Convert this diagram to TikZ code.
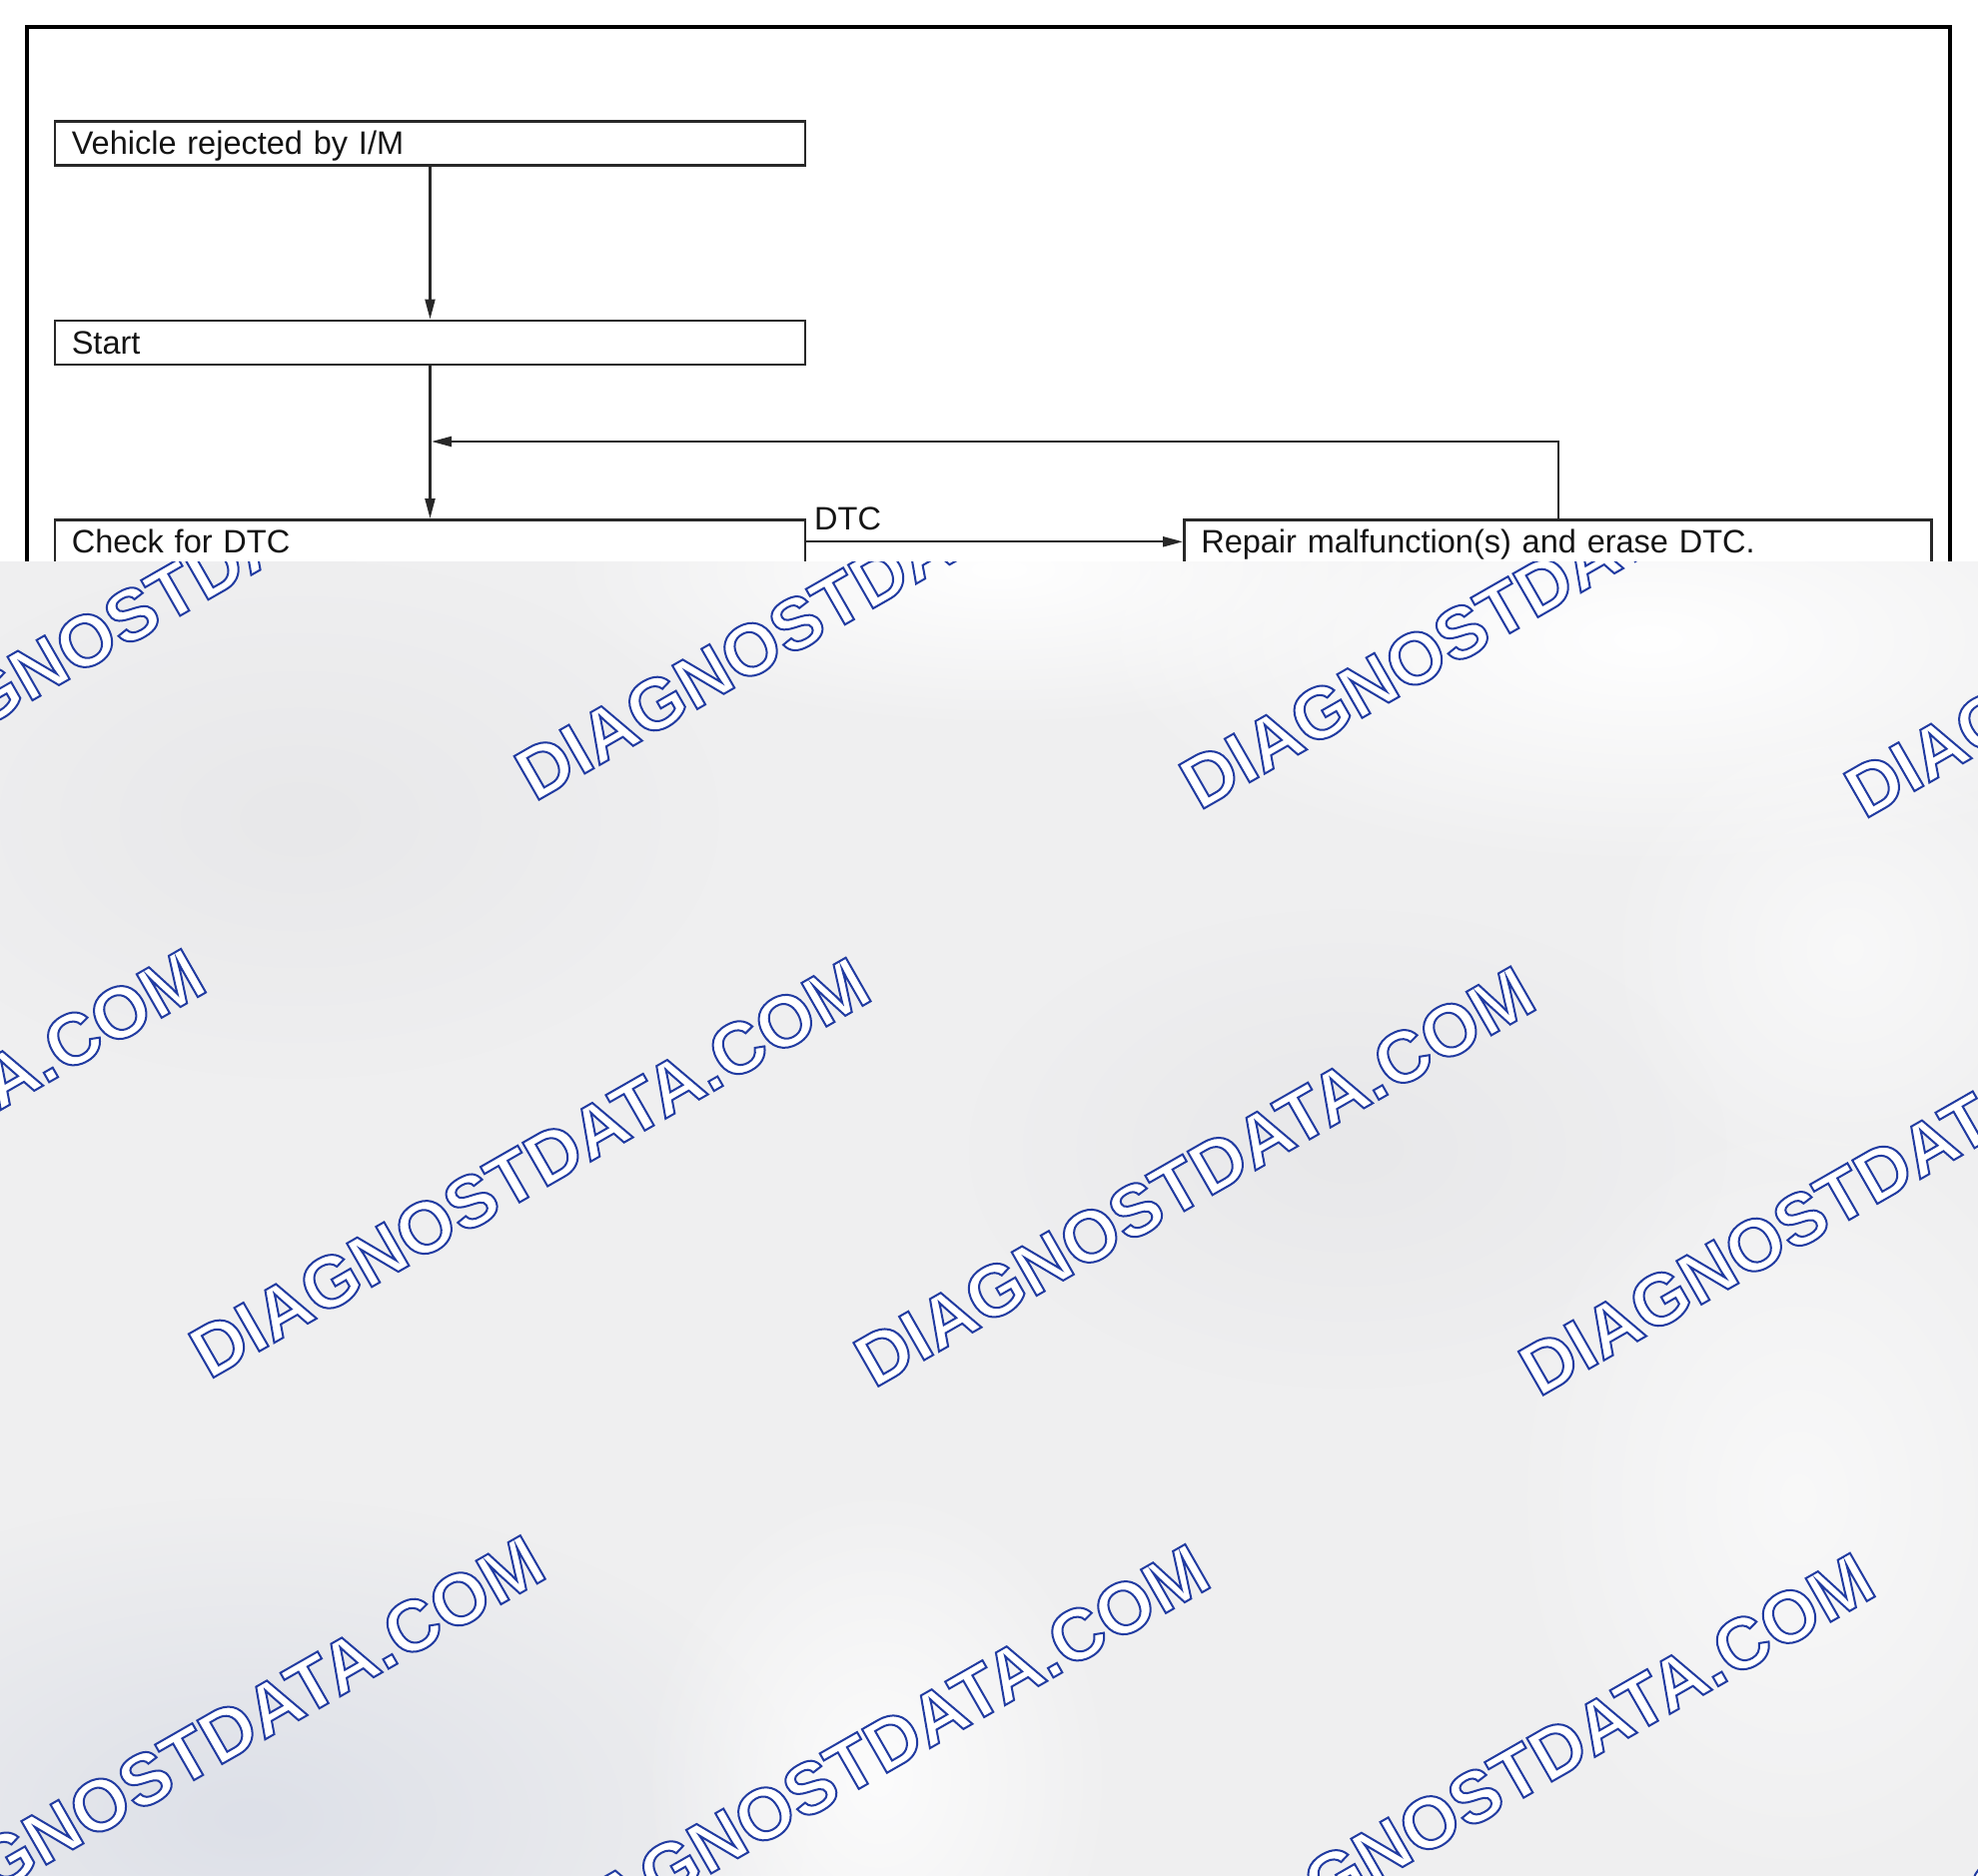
\documentclass[tikz,border=0pt]{standalone}
\usepackage{fontspec}
\setmainfont{Liberation Sans}
\usetikzlibrary{arrows.meta,fadings}
\definecolor{bgc}{RGB}{239,239,240}
\definecolor{ink}{RGB}{20,20,20}
\definecolor{lin}{RGB}{40,40,40}
\definecolor{darkbg}{RGB}{221,224,232}
\definecolor{midbg}{RGB}{232,232,234}
\tikzfading[name=fuzzy, inner color=transparent!0, outer color=transparent!100]
\newcommand\wmark{\special{pdf:literal direct 2 Tr 2 w 1 1 1 rg 0.13 0.23 0.63 RG}DIAGNOSTDATA.COM\special{pdf:literal direct 0 Tr}}
\begin{document}
\begin{tikzpicture}[x=1pt,y=-1pt,
  box/.style={draw=lin, line width=2.6pt, fill=white, inner xsep=17pt, inner ysep=0pt,
    minimum height=44pt, text height=23.3pt, text depth=0pt, align=left,
    font=\fontsize{32.5}{36}\selectfont, text=ink, anchor=north west},
  arr/.style={draw=lin, line width=2.2pt, -{Triangle[length=20pt,width=10pt]}},
  lbl/.style={font=\fontsize{32.5}{36}\selectfont, text=ink, inner sep=0pt, anchor=base west},
  wm/.style={anchor=base west, rotate=29.8, inner sep=0pt, font=\fontsize{73}{80}\selectfont\bfseries},
  fog/.style={path fading=fuzzy}]
\useasboundingbox (0,0) rectangle (1980,1878);
\fill[white] (0,0) rectangle (1980,1878);
% outer frame
\draw[line width=4.5pt, black] (27,27) rectangle (1952,800);
% boxes
\node[box, text width=717pt] (b1) at (53.5,120) {Vehicle rejected by I/M};
\node[box, text width=717pt] (b2) at (53.5,319.5) {Start};
\node[box, text width=717pt] (b3) at (53.5,519) {Check for DTC};
\node[box, text width=714pt] (b4) at (1184,519) {Repair malfunction(s) and erase DTC.};
\coordinate (vx) at (430.5,0);
\coordinate (fbx) at (1560,442);
\coordinate (j) at (432,442);
\draw[arr] (b1.south -| vx) -- (b2.north -| vx);
\draw[arr] (b2.south -| vx) -- (b3.north -| vx);
\draw[arr] (b3.east) -- (b4.west);
\draw[arr] (b4.north -| fbx) -- (fbx) -- (j);
\node[lbl] (dtc) at (815,530) {DTC};
% grey overlay
\begin{scope}
\clip (0,562) rectangle (1980,1878);
\fill[bgc] (0,562) rectangle (1980,1878);
\fill[midbg, fog] (300,820) ellipse (420 and 260);
\fill[midbg, fog] (1350,1150) ellipse (380 and 240);
\fill[darkbg, fog] (250,1820) ellipse (560 and 320);
\fill[white, fog] (1650,640) ellipse (560 and 230);
\fill[white, fog] (1000,570) ellipse (450 and 160);
\fill[white, fog, opacity=0.8] (880,1780) ellipse (240 and 300);
\fill[white, fog, opacity=0.6] (1800,1500) ellipse (300 and 400);
\fill[white, fog, opacity=0.6] (1850,950) ellipse (250 and 250);
\begin{scope}[shift={(20,5)}]
\node[wm] (w1) at (-150.3,789.3) {\wmark};
\node[wm] (w2) at (515.2,798.1) {\wmark};
\node[wm] (w3) at (1180.7,806.9) {\wmark};
\node[wm] (w4) at (1846.2,815.7) {\wmark};
\node[wm] (w5) at (-476.1,1367.7) {\wmark};
\node[wm] (w6) at (189.4,1376.5) {\wmark};
\node[wm] (w7) at (854.9,1385.3) {\wmark};
\node[wm] (w8) at (1520.4,1394.1) {\wmark};
\node[wm] (w9) at (-136.4,1954.9) {\wmark};
\node[wm] (w10) at (529.1,1963.7) {\wmark};
\node[wm] (w11) at (1194.6,1972.5) {\wmark};
\node[wm] (w12) at (1860.1,1981.3) {\wmark};
\end{scope}
\end{scope}
\end{tikzpicture}
\end{document}
